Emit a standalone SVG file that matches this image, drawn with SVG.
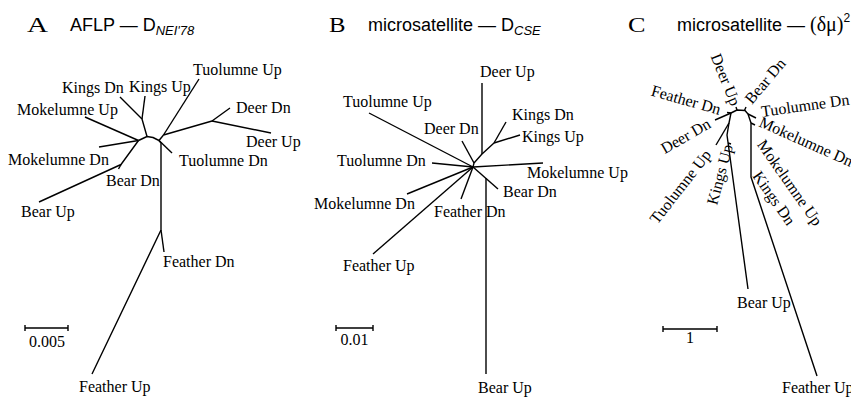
<svg xmlns="http://www.w3.org/2000/svg" width="851" height="398" viewBox="0 0 851 398">
  <style>
    .lbl { font-family: "Liberation Serif", "Times New Roman", serif; font-size: 16px; fill: #000; }
    .panel { font-family: "Liberation Serif", "Times New Roman", serif; font-size: 21px; fill: #000; }
    .ttl { font-family: "Liberation Sans", Arial, sans-serif; font-size: 18px; fill: #000; }
    .sub { font-size: 13px; font-style: italic; }
    .br { stroke: #000; stroke-width: 1.4; fill: none; stroke-linejoin: round; }
    .bar { stroke: #000; stroke-width: 1.4; fill: none; }
  </style>

  <!-- Panel titles -->
  <g id="titles">
    <text class="panel" x="27" y="32" textLength="21" lengthAdjust="spacingAndGlyphs">A</text>
    <text class="ttl" x="70" y="31">AFLP — D<tspan class="sub" dy="4">NEI'78</tspan></text>
    <text class="panel" x="329" y="32" textLength="16.5" lengthAdjust="spacingAndGlyphs">B</text>
    <text class="ttl" x="368" y="31">microsatellite — D<tspan class="sub" dy="4">CSE</tspan></text>
    <text class="panel" x="628" y="32" textLength="17.5" lengthAdjust="spacingAndGlyphs">C</text>
    <text class="ttl" x="677" y="31">microsatellite — <tspan font-family="Liberation Serif, serif" font-size="20">(δμ)</tspan><tspan font-size="12" dy="-9">2</tspan></text>
  </g>

  <!-- ===== Tree A: AFLP, Nei 1978 distance ===== -->
  <g id="connectors-a">
    <polyline class="br" points="120,97 142,119 147,136.5"/>
    <line class="br" x1="145" y1="96" x2="142" y2="119"/>
    <line class="br" x1="85" y1="117" x2="138.5" y2="140.5"/>
    <line class="br" x1="99" y1="147" x2="138.5" y2="140.5"/>
    <polyline class="br" points="138.5,140.5 147,136.5 153,137.5 159,140.5"/>
    <polyline class="br" points="138.5,140.5 121,164.5 39,202"/>
    <line class="br" x1="121" y1="164.5" x2="118.5" y2="169"/>
    <line class="br" x1="159" y1="140.5" x2="163.5" y2="135"/>
    <line class="br" x1="199" y1="79" x2="163.5" y2="135"/>
    <polyline class="br" points="163.5,135 212,121 230,108"/>
    <line class="br" x1="212" y1="121" x2="271" y2="133"/>
    <line class="br" x1="159" y1="140.5" x2="172" y2="153"/>
    <polyline class="br" points="159,140.5 161,143 161,230 92,374"/>
    <line class="br" x1="161" y1="230" x2="164" y2="252"/>
  </g>
  <g id="a-tuolumne-up"><text class="lbl" x="193" y="75">Tuolumne Up</text></g>
  <g id="a-kings-dn"><text class="lbl" x="62" y="93">Kings Dn</text></g>
  <g id="a-kings-up"><text class="lbl" x="129" y="92">Kings Up</text></g>
  <g id="a-mokelumne-up"><text class="lbl" x="17" y="115">Mokelumne Up</text></g>
  <g id="a-deer-dn"><text class="lbl" x="236" y="113">Deer Dn</text></g>
  <g id="a-deer-up"><text class="lbl" x="246" y="147">Deer Up</text></g>
  <g id="a-mokelumne-dn"><text class="lbl" x="8" y="165">Mokelumne Dn</text></g>
  <g id="a-tuolumne-dn"><text class="lbl" x="179" y="166">Tuolumne Dn</text></g>
  <g id="a-bear-dn"><text class="lbl" x="106" y="186">Bear Dn</text></g>
  <g id="a-bear-up"><text class="lbl" x="21" y="217">Bear Up</text></g>
  <g id="a-feather-dn"><text class="lbl" x="163" y="267">Feather Dn</text></g>
  <g id="a-feather-up"><text class="lbl" x="79" y="392">Feather Up</text></g>
  <g id="a-scale">
    <path class="bar" d="M25,328 H68 M25,325 V331 M68,325 V331"/>
    <text class="lbl" x="47" y="347" text-anchor="middle">0.005</text>
  </g>

  <!-- ===== Tree B: microsatellite, Cavalli-Sforza & Edwards chord distance ===== -->
  <g id="connectors-b">
    <line class="br" x1="506" y1="122" x2="494" y2="143"/>
    <line class="br" x1="520" y1="135" x2="494" y2="143"/>
    <polyline class="br" points="494,143 482,154 474,163 473,167"/>
    <line class="br" x1="482" y1="83" x2="482" y2="154"/>
    <line class="br" x1="462" y1="141" x2="474" y2="163"/>
    <line class="br" x1="369" y1="113" x2="473" y2="167"/>
    <line class="br" x1="432" y1="163" x2="473" y2="167"/>
    <line class="br" x1="473" y1="167" x2="543" y2="163"/>
    <line class="br" x1="407" y1="194" x2="473" y2="167"/>
    <line class="br" x1="373" y1="254" x2="473" y2="167"/>
    <line class="br" x1="473" y1="167" x2="461" y2="199"/>
    <line class="br" x1="473" y1="167" x2="498" y2="189"/>
    <line class="br" x1="486" y1="178" x2="486" y2="374"/>
  </g>
  <g id="b-deer-up"><text class="lbl" x="480" y="77">Deer Up</text></g>
  <g id="b-tuolumne-up"><text class="lbl" x="343" y="107">Tuolumne Up</text></g>
  <g id="b-kings-dn"><text class="lbl" x="512" y="120">Kings Dn</text></g>
  <g id="b-deer-dn"><text class="lbl" x="424" y="134">Deer Dn</text></g>
  <g id="b-kings-up"><text class="lbl" x="522" y="142">Kings Up</text></g>
  <g id="b-tuolumne-dn"><text class="lbl" x="337" y="166">Tuolumne Dn</text></g>
  <g id="b-mokelumne-up"><text class="lbl" x="527" y="178">Mokelumne Up</text></g>
  <g id="b-bear-dn"><text class="lbl" x="503" y="197">Bear Dn</text></g>
  <g id="b-mokelumne-dn"><text class="lbl" x="314" y="209">Mokelumne Dn</text></g>
  <g id="b-feather-dn"><text class="lbl" x="434" y="217">Feather Dn</text></g>
  <g id="b-feather-up"><text class="lbl" x="343" y="271">Feather Up</text></g>
  <g id="b-bear-up"><text class="lbl" x="478" y="393">Bear Up</text></g>
  <g id="b-scale">
    <path class="bar" d="M336,328 H373 M336,325 V331 M373,325 V331"/>
    <text class="lbl" x="354.5" y="345" text-anchor="middle">0.01</text>
  </g>

  <!-- ===== Tree C: microsatellite, (delta mu)^2 distance ===== -->
  <g id="connectors-c">
    <polyline class="br" points="715,120 731,113 737,110 745,110.5 748,114 751,123 751,177 817,376"/>
    <line class="br" x1="731" y1="113" x2="727" y2="112.5"/>
    <line class="br" x1="737" y1="110" x2="736" y2="107"/>
    <line class="br" x1="744.5" y1="110.5" x2="746" y2="107"/>
    <line class="br" x1="748" y1="114" x2="756" y2="118"/>
    <line class="br" x1="751" y1="123" x2="755" y2="125"/>
    <polyline class="br" points="731,113 729,123 727,135 748,289"/>
    <line class="br" x1="729" y1="123" x2="716" y2="145"/>
    <line class="br" x1="728" y1="143" x2="731" y2="144"/>
  </g>
  <g id="c-feather-dn"><text class="lbl" text-anchor="end" transform="translate(719,115) rotate(16)">Feather Dn</text></g>
  <g id="c-deer-up"><text class="lbl" text-anchor="end" transform="translate(731,107) rotate(68)">Deer Up</text></g>
  <g id="c-bear-dn"><text class="lbl" transform="translate(752,105) rotate(-50)">Bear Dn</text></g>
  <g id="c-tuolumne-dn"><text class="lbl" transform="translate(762,117) rotate(-8)">Tuolumne Dn</text></g>
  <g id="c-mokelumne-dn"><text class="lbl" transform="translate(758,126) rotate(24)">Mokelumne Dn</text></g>
  <g id="c-mokelumne-up"><text class="lbl" transform="translate(756.5,144.5) rotate(55)">Mokelumne Up</text></g>
  <g id="c-kings-dn"><text class="lbl" transform="translate(752,176) rotate(55)">Kings Dn</text></g>
  <g id="c-kings-up"><text class="lbl" text-anchor="end" transform="translate(733,146) rotate(-75)">Kings Up</text></g>
  <g id="c-tuolumne-up"><text class="lbl" text-anchor="end" transform="translate(712,155) rotate(-52)">Tuolumne Up</text></g>
  <g id="c-deer-dn"><text class="lbl" text-anchor="end" transform="translate(712,127) rotate(-30)">Deer Dn</text></g>
  <g id="c-bear-up"><text class="lbl" x="737" y="308">Bear Up</text></g>
  <g id="c-feather-up"><text class="lbl" x="782" y="393">Feather Up</text></g>
  <g id="c-scale">
    <path class="bar" d="M663,329 H717 M663,326 V332 M717,326 V332"/>
    <text class="lbl" x="690" y="343" text-anchor="middle">1</text>
  </g>
</svg>
